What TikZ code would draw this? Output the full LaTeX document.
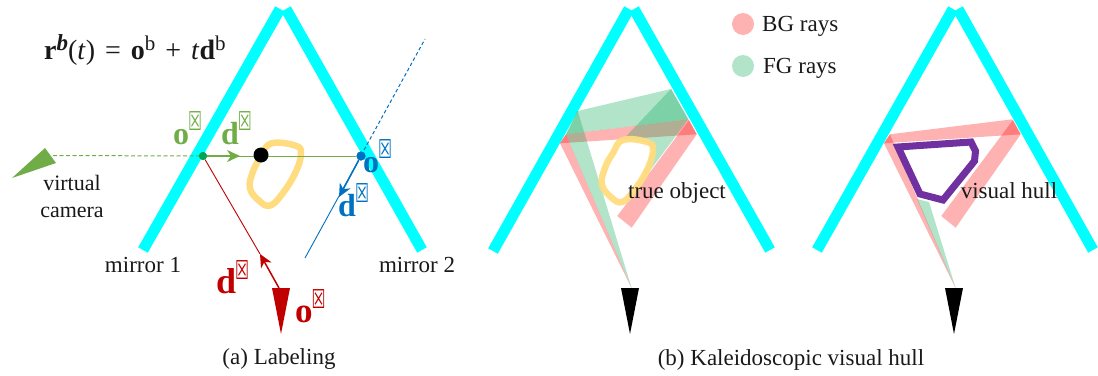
\documentclass[tikz,border=0pt]{standalone}
\usepackage{fontspec}
\setmainfont{Liberation Serif}
\newfontfamily\tofufont{DejaVu Sans}
\usetikzlibrary{arrows.meta}
\definecolor{mirrorc}{HTML}{00FFFF}
\definecolor{objc}{HTML}{FFDC7F}
\definecolor{gcam}{HTML}{70AD47}
\definecolor{bcam}{HTML}{0070C0}
\definecolor{rcam}{HTML}{C00000}
\definecolor{gdot}{HTML}{00A651}
\definecolor{hull}{HTML}{7030A0}
\newcommand{\tofu}{\hspace{-1pt}\raisebox{14pt}{\scalebox{0.6}[1]{\tofufont\fontsize{26}{26}\selectfont\mdseries ☒}}}
\tikzset{
  mirrorbar/.style={draw=mirrorc,line width=11pt},
  bgray/.style={fill=red,fill opacity=0.3},
  fgray/.style={fill=gdot,fill opacity=0.3},
  txt/.style={font=\fontsize{23}{26}\selectfont,inner sep=0pt,text=black!90},
  lab/.style={font=\fontsize{32}{32}\selectfont\bfseries,inner sep=0pt,anchor=base west},
  thinray/.style={line width=0.9pt},
  fatray/.style={line width=1.5pt},
  tip/.style={-{Stealth[length=13pt,width=12pt,inset=4pt]}},
  objline/.style={draw=objc,line width=6.5pt,line join=round},
  camtri/.style={fill=black,draw=none}
}
\begin{document}
\begin{tikzpicture}[x=1pt,y=-1pt]
\useasboundingbox (0,0) rectangle (1098,375);
% mirrors
\draw[mirrorbar] (143,250) -- (280,9);
\draw[mirrorbar] (422,250) -- (286,9);
\draw[mirrorbar] (493,251) -- (629,9);
\draw[mirrorbar] (770,250) -- (634,9);
\draw[mirrorbar] (817,250) -- (953,9);
\draw[mirrorbar] (1093,250) -- (958,9);
% panel a object
\draw[objline] plot[smooth cycle,tension=0.7] coordinates {(271,143.5)(295,145.5)(301,153.5)(295,173.5)(281,195.5)(270,205.5)(260,201.5)(250,188.5)(253,171.5)(261,156.5)};
% panel a named points
\coordinate (gfar) at (53,155.5);
\node[circle,fill=gdot,minimum size=8pt,inner sep=0pt] (gdotn) at (203,156) {};
\node[circle,fill=bcam,minimum size=9pt,inner sep=0pt] (bdotn) at (361,156) {};
\coordinate (gtip) at (240,156);
\coordinate (btip) at (339,197);
\coordinate (rtip) at (260,254);
\coordinate (rbase) at (279,288);
\coordinate (bfar) at (425,39);
\coordinate (bend) at (305,258);
\coordinate (bstart) at (364,150);
% connectors
\draw[gcam,line width=1pt,dash pattern=on 4pt off 2.5pt] (gfar) -- (gdotn.west);
\draw[gcam,thinray] (gdotn) -- (bdotn);
\draw[gcam,fatray,tip] (gdotn) -- (gtip);
\draw[rcam,thinray] (gdotn) -- (rtip);
\draw[rcam,fatray,tip] (rbase) -- (rtip);
\draw[bcam,line width=1pt,dash pattern=on 3.5pt off 2.5pt] (bstart) -- (bfar);
\draw[bcam,thinray] (bdotn) -- (bend);
\draw[bcam,fatray,tip] (bdotn) -- (btip);
\node[circle,fill=gdot,minimum size=8pt,inner sep=0pt] at (gdotn) {};
\node[circle,fill=bcam,minimum size=9pt,inner sep=0pt] at (bdotn) {};
\node[circle,fill=black,minimum size=15pt,inner sep=0pt] (objdot) at (261,155) {};
% cameras panel a
\fill[gcam] (45,148) -- (56,163) -- (12,178) -- cycle;
\fill[rcam] (272,288) -- (290,288) -- (281,334) -- cycle;
% panel a labels
\node[lab,text=gcam] (lo1) at (173,144) {o\tofu};
\node[lab,text=gcam] (ld1) at (221,144) {d\tofu};
\node[lab,text=bcam] (lo2) at (363,172) {o\tofu};
\node[lab,text=bcam] (ld2) at (338,216) {d\tofu};
\node[lab,text=rcam,font=\fontsize{36}{36}\selectfont\bfseries] (ld3) at (216,293) {d\tofu};
\node[lab,text=rcam,font=\fontsize{35}{35}\selectfont\bfseries] (lo3) at (295,322) {o\tofu};
\node[txt,anchor=base west,font=\fontsize{28}{30}\selectfont] (formula) at (44,59) {\textbf{r}\raisebox{9pt}{\fontsize{23}{23}\selectfont\textbf{\textit{b}}}(\textit{t})\hspace{3pt} = \hspace{3pt}\textbf{o}\raisebox{9pt}{\fontsize{21}{21}\selectfont b}\hspace{3pt} + \hspace{3pt}\textit{t}\textbf{d}\raisebox{9pt}{\fontsize{21}{21}\selectfont b}};
\node[txt,align=center,font=\fontsize{22}{27}\selectfont] (vcam) at (72,196.5) {virtual\\camera};
\node[txt] (m1) at (143,265) {mirror 1};
\node[txt] (m2) at (417,265) {mirror 2};
\node[txt] (capa) at (279,359) {(a) Labeling};
\node[txt] (capb) at (791,360) {(b) Kaleidoscopic visual hull};
% panel b + c pink rays
\foreach \sx in {0,324}{
\begin{scope}[shift={(\sx,0)}]
  \fill[bgray] (631.7,288.3) -- (560,143.3) -- (566,134.3) -- cycle;
  \fill[bgray] (566,134.3) -- (688.3,119.3) -- (696.7,134.3) -- (560,143.3) -- cycle;
  \fill[bgray] (689,120) -- (696.7,134.3) -- (631.7,227.7) -- (617.3,216) -- cycle;
\end{scope}}
% green rays panel b
\fill[fgray] (631.7,288.3) -- (566,134.3) -- (577.7,111) -- cycle;
\fill[fgray] (566,134.3) -- (577.7,111) -- (671,89) -- (688.3,119.3) -- cycle;
\fill[fgray] (671,89) -- (688.3,119.3) -- (636.7,188.3) -- (646.7,166.7) -- (653.3,150) -- (646.7,141.7) -- (623.3,139.3) -- cycle;
% green ray panel c
\fill[fgray] (955.7,288.3) -- (917,199) -- (929,202) -- cycle;
% object panel b
\draw[objline,draw opacity=0.95] plot[smooth cycle,tension=0.7] coordinates {(623,140)(647,142)(653,150)(647,170)(633,192)(622,202)(612,198)(602,185)(605,168)(613,153)};
% hull
\draw[draw=hull,line width=7pt,miter limit=6] (898,147) -- (971,142) -- (975.5,151) -- (974.5,161) -- (943,200) -- (920,194) -- cycle;
% black cameras
\fill[camtri] (621,288) -- (639,288) -- (630,334) -- cycle;
\fill[camtri] (945,288) -- (963,288) -- (954,334) -- cycle;
% legend
\node[circle,fill=red,fill opacity=0.3,minimum size=22pt,inner sep=0pt] (bgdot) at (743,24) {};
\node[circle,fill=gdot,fill opacity=0.3,minimum size=22pt,inner sep=0pt] (fgdot) at (743,66) {};
\node[txt,anchor=west] (bgt) at (762,26) {BG rays};
\node[txt,anchor=west] (fgt) at (763,68) {FG rays};
\node[txt] (tobj) at (677,193) {true object};
\node[txt] (vh) at (1009,191) {visual hull};
\end{tikzpicture}
\end{document}
